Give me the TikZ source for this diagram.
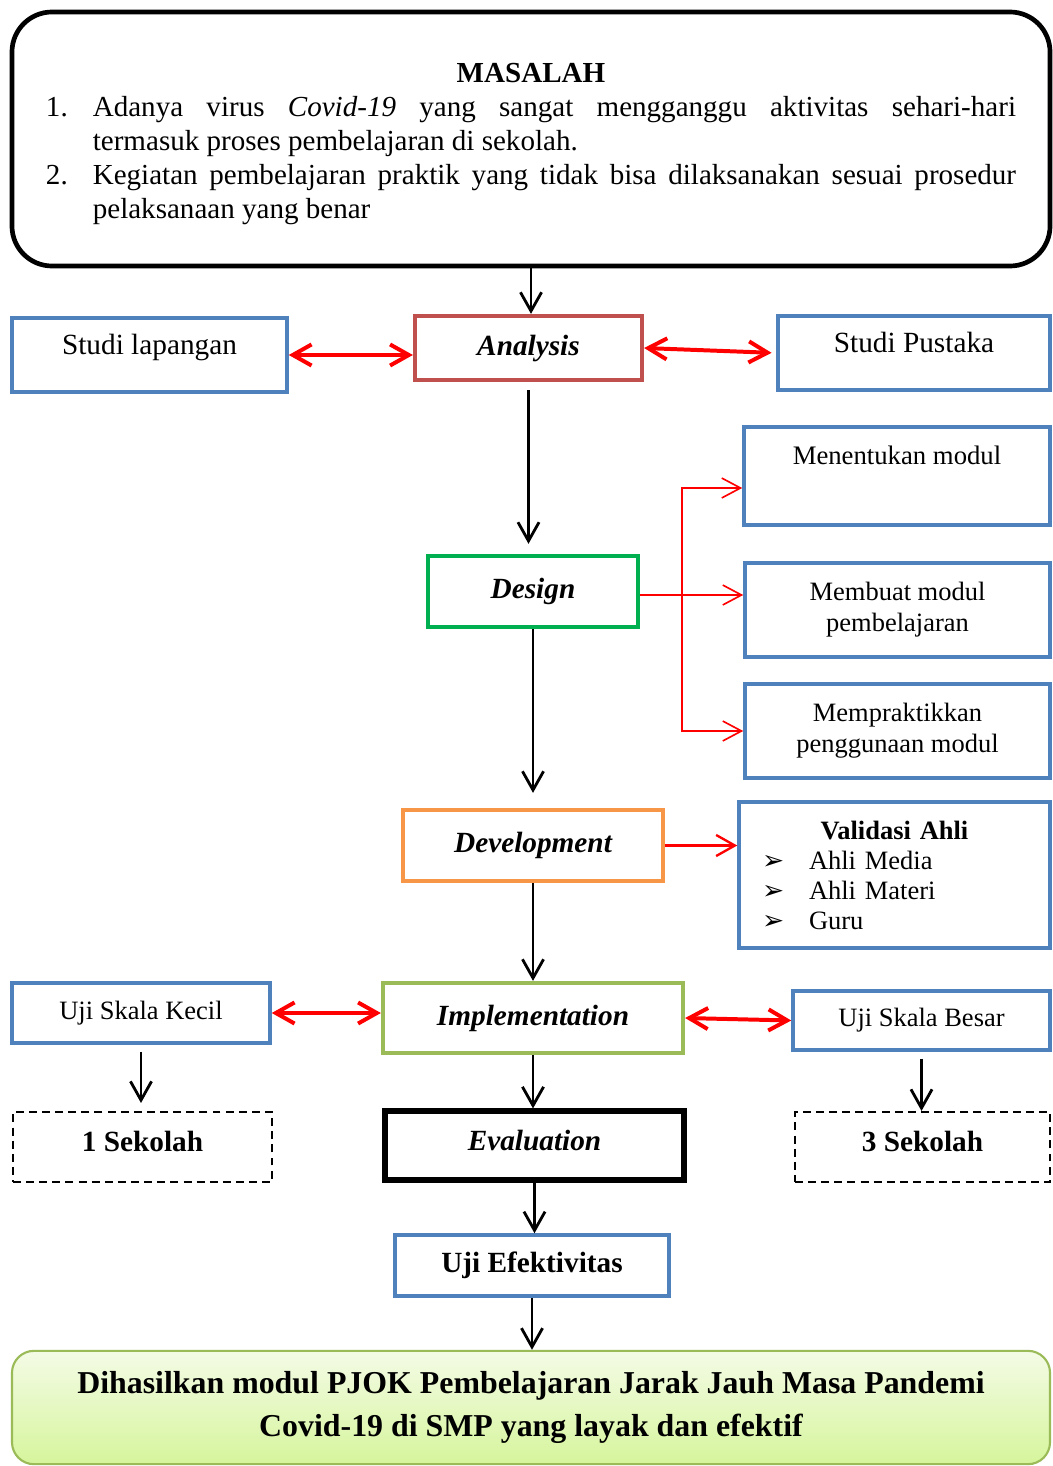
\documentclass[tikz,border=0pt]{standalone}
\usepackage{fontspec}
\setmainfont{Liberation Serif}
\newfontfamily\symfont{DejaVu Sans}
\usetikzlibrary{arrows.meta}
\definecolor{boxblue}{HTML}{4F81BD}
\definecolor{analysisred}{HTML}{C0504D}
\definecolor{designgreen}{HTML}{00B050}
\definecolor{devorange}{HTML}{F79646}
\definecolor{implgreen}{HTML}{9BBB59}
\definecolor{hasiltop}{HTML}{F4FBE6}
\definecolor{hasilbot}{HTML}{D6F59C}
\tikzset{
  bluebox/.style={draw=boxblue, line width=1.5pt, inner sep=0pt, align=center},
  stagebox/.style={draw=#1, line width=1.8pt, inner sep=0pt,
    font=\fontsize{12.5}{15}\selectfont\bfseries\itshape},
  dashbox/.style={draw, line width=0.9pt, dash pattern=on 3.4pt off 2.2pt, inner sep=0pt,
    text depth=5pt, font=\fontsize{12.5}{15}\selectfont\bfseries},
  flow/.style={line width=1.2pt, -{Straight Barb[length=8pt,width=9pt]}},
  twoway/.style={red, line width=1.7pt,
    {Straight Barb[length=8pt,width=9pt]}-{Straight Barb[length=8pt,width=9pt]}},
  branch/.style={red, line width=0.7pt, -{Straight Barb[length=8pt,width=8.5pt]}},
}
\begin{document}
\begin{tikzpicture}[x=0.015cm,y=-0.015cm]
\useasboundingbox (0,0) rectangle (1052,1466);

% problem statement
\node[draw, line width=2pt, rounded corners=0.6cm, minimum width=15.57cm, minimum height=3.81cm,
  text width=14.55cm, align=justify, font=\fontsize{12.4}{14.5}\selectfont] (masalah) at (531,139)
{\noindent\rule{0pt}{12.6pt}\makebox[\hsize]{\textbf{MASALAH}}\par
\noindent\hangindent=20pt\hangafter=1\makebox[20pt][l]{1.}Adanya virus \textit{Covid-19} yang sangat mengganggu aktivitas sehari-hari\linebreak termasuk proses pembelajaran di sekolah.\par
\noindent\hangindent=20pt\hangafter=1\makebox[20pt][l]{2.}Kegiatan pembelajaran praktik yang tidak bisa dilaksanakan sesuai prosedur\linebreak pelaksanaan yang benar\par};

% analysis row
\node[bluebox, minimum width=4.125cm, minimum height=1.11cm, text depth=9pt, font=\fontsize{12.5}{15}\selectfont] (lapangan) at (149.5,355) {Studi lapangan};
\node[stagebox=analysisred, minimum width=3.405cm, minimum height=0.96cm] (analysis) at (528.5,348) {Analysis};
\node[bluebox, minimum width=4.08cm, minimum height=1.11cm, text depth=9pt, font=\fontsize{12.5}{15}\selectfont] (pustaka) at (914,353) {Studi Pustaka};

% design row
\node[stagebox=designgreen, minimum width=3.15cm, minimum height=1.065cm] (design) at (533,591.5) {Design};
\node[bluebox, minimum width=4.59cm, minimum height=1.47cm, font=\fontsize{11.4}{14}\selectfont] (menentukan) at (897,476) {Menentukan modul\\[4pt]\mbox{}};
\node[bluebox, minimum width=4.575cm, minimum height=1.41cm, font=\fontsize{11.3}{13.2}\selectfont] (membuat) at (897.5,610) {Membuat modul\\pembelajaran};
\node[bluebox, minimum width=4.575cm, minimum height=1.41cm, font=\fontsize{11.3}{13.2}\selectfont] (mempraktik) at (897.5,731) {Mempraktikkan\\penggunaan modul};

% development row
\node[stagebox=devorange, minimum width=3.9cm, minimum height=1.065cm] (development) at (533,845.5) {Development};
\node[bluebox, minimum width=4.665cm, minimum height=2.19cm, text width=3.975cm, align=left,
  font=\fontsize{11.3}{12.8}\selectfont] (validasi) at (894.5,875)
{\makebox[\hsize]{\textbf{Validasi Ahli}}\\
\makebox[0.705cm][l]{\symfont ➢}Ahli Media\\
\makebox[0.705cm][l]{\symfont ➢}Ahli Materi\\
\makebox[0.705cm][l]{\symfont ➢}Guru};

% implementation row
\node[bluebox, minimum width=3.87cm, minimum height=0.9cm, font=\fontsize{11.3}{13.2}\selectfont] (kecil) at (141,1013) {Uji Skala Kecil};
\node[stagebox=implgreen, minimum width=4.5cm, minimum height=1.05cm] (implementation) at (533,1018) {Implementation};
\node[bluebox, minimum width=3.855cm, minimum height=0.885cm, font=\fontsize{11.3}{13.2}\selectfont] (besar) at (921.5,1020.5) {Uji Skala Besar};

% evaluation row
\node[dashbox, minimum width=3.885cm, minimum height=1.05cm] (sekolah1) at (142.5,1147) {1 Sekolah};
\node[stagebox=black, line width=2.2pt, text depth=4pt, minimum width=4.485cm, minimum height=1.035cm] (evaluation) at (534.5,1145.5) {Evaluation};
\node[dashbox, minimum width=3.825cm, minimum height=1.05cm] (sekolah3) at (922.5,1147) {3 Sekolah};

\node[bluebox, minimum width=4.11cm, minimum height=0.915cm, font=\fontsize{12.5}{15}\selectfont\bfseries] (efektif) at (532,1265.5) {Uji Efektivitas};

\node[draw=implgreen, line width=0.9pt, rounded corners=0.33cm, top color=hasiltop, bottom color=hasilbot,
  minimum width=15.57cm, minimum height=1.7cm, align=center, font=\fontsize{13.6}{18}\selectfont\bfseries] (hasil) at (531,1407.5)
{Dihasilkan modul PJOK Pembelajaran Jarak Jauh Masa Pandemi\\Covid-19 di SMP yang layak dan efektif};

% main flow
\draw[flow] (masalah.south) -- (masalah.south |- analysis.north);
\draw[flow, shorten <=3.4pt, shorten >=4.3pt] (analysis.south) -- (analysis.south |- design.north);
\draw[flow, shorten >=6.4pt] (design.south) -- (development.north);
\draw[flow] (development.south) -- (implementation.north);
\draw[flow] (implementation.south) -- (implementation.south |- evaluation.north);
\draw[flow] (evaluation.south) -- (evaluation.south |- efektif.north);
\draw[flow] (efektif.south) -- (efektif.south |- hasil.north);
\draw[flow, shorten <=3pt, shorten >=3.4pt] (kecil.south) -- (kecil.south |- sekolah1.north);
\draw[flow, shorten <=3pt] (besar.south) -- (besar.south |- sekolah3.north);

% two-way links
\draw[twoway] (lapangan.east) -- (lapangan.east -| analysis.west);
\draw[twoway, shorten >=2pt] (analysis.east) -- (pustaka.west);
\draw[twoway] (kecil.east) -- (kecil.east -| implementation.west);
\draw[twoway] (implementation.east) -- (besar.west);

% design branches
\coordinate (fork) at (682,595);
\draw[red, line width=0.7pt] (fork -| design.east) -- (fork);
\draw[branch] (fork) |- ([yshift=-0.18cm]menentukan.west);
\draw[branch] (fork) -- (fork -| membuat.west);
\draw[branch] (fork) |- (mempraktik.west);
\draw[red, line width=1pt, -{Straight Barb[length=8pt,width=9pt]}] (development.east) -- (development.east -| validasi.west);
\end{tikzpicture}
\end{document}
